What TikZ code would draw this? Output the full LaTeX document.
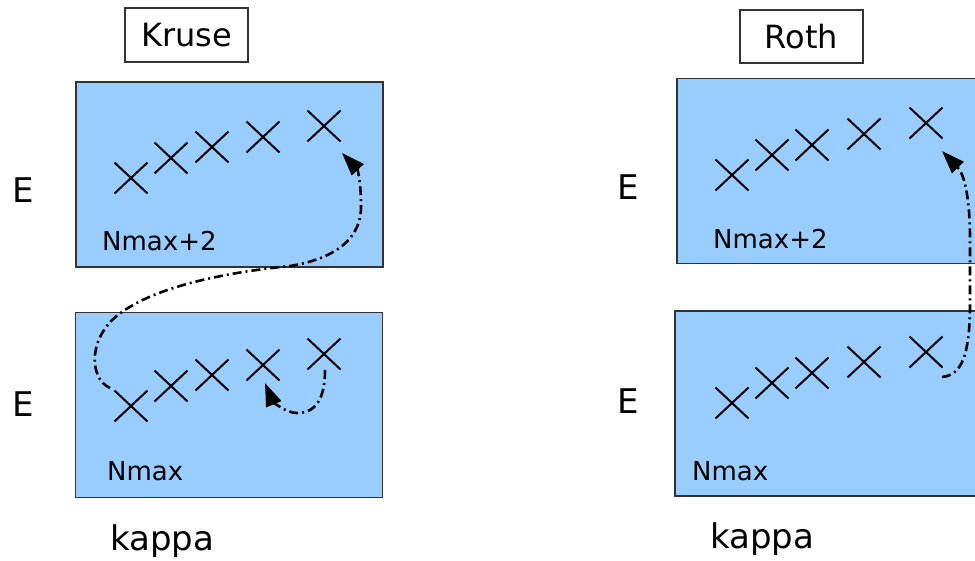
\documentclass[tikz,border=0pt]{standalone}
\usepackage{fontspec}
\setmainfont{DejaVu Sans}
\usetikzlibrary{arrows.meta,shapes.misc,calc}
\definecolor{boxblue}{HTML}{99CCFF}
\definecolor{edgegray}{HTML}{333333}
\begin{document}
\begin{tikzpicture}[x=1pt,y=-1pt,
  panel/.style={draw=edgegray,line width=1.6pt,fill=boxblue,minimum width=307pt,minimum height=185pt,inner sep=0pt,outer sep=0pt},
  titlebox/.style={draw=edgegray,line width=1.3pt,fill=white,minimum width=123pt,minimum height=54pt,inner sep=0pt,text depth=0pt,font=\fontsize{32}{36}\selectfont},
  xmark/.style={cross out,draw=black,line width=2pt,minimum width=33pt,minimum height=31pt,inner sep=0pt,outer sep=0pt},
  elabel/.style={anchor=base west,inner sep=0pt,font=\fontsize{34}{40}\selectfont},
  nlabel/.style={anchor=base west,inner sep=0pt,font=\fontsize{26}{30}\selectfont},
  klabel/.style={anchor=base west,inner sep=0pt,font=\fontsize{34}{40}\selectfont},
  jump/.style={line width=2.6pt,dash pattern=on 9pt off 4pt on 2pt off 4pt,-{Triangle[length=23pt,width=16pt]}}]
\useasboundingbox (0,0) rectangle (975,560);
\clip (0,0) rectangle (975,560);

% ---------- left panel (Kruse) ----------
\node[titlebox] (kruse) at (186.5,35) {Kruse};
\node[panel] (ltop) at (229.5,174.5) {};
\node[panel] (lbot) at (229,405) {};
\node[elabel] (le1) at (12,202) {E};
\node[elabel] (le2) at (12,416) {E};
\node[nlabel] (ln1) at (102,250) {Nmax+2};
\node[nlabel] (ln2) at (107,480) {Nmax};
\node[klabel] (lk) at (110,550) {kappa};

\node[xmark] (lt1) at (131,178) {};
\node[xmark] (lt2) at (171,158) {};
\node[xmark] (lt3) at (212,147) {};
\node[xmark] (lt4) at (263,137) {};
\node[xmark] (lt5) at (324,126) {};
\node[xmark] (lb1) at (131,406) {};
\node[xmark] (lb2) at (171,386) {};
\node[xmark] (lb3) at (212,375) {};
\node[xmark] (lb4) at (263,365) {};
\node[xmark] (lb5) at (324,354) {};

% ---------- right panel (Roth) ----------
\node[titlebox,minimum height=53pt] (roth) at (801.5,36.5) {Roth};
\node[panel] (rtop) at (830.5,171) {};
\node[panel] (rbot) at (828.5,403.5) {};
\node[elabel] (re1) at (617,199) {E};
\node[elabel] (re2) at (617,413) {E};
\node[nlabel] (rn1) at (713,248) {Nmax+2};
\node[nlabel] (rn2) at (692,480) {Nmax};
\node[klabel] (rk) at (710,548) {kappa};

\node[xmark] (rt1) at (732,175) {};
\node[xmark] (rt2) at (772,155) {};
\node[xmark] (rt3) at (812,145) {};
\node[xmark] (rt4) at (864,134) {};
\node[xmark] (rt5) at (926,123) {};
\node[xmark] (rb1) at (732,403) {};
\node[xmark] (rb2) at (772,383) {};
\node[xmark] (rb3) at (812,373) {};
\node[xmark] (rb4) at (864,362) {};
\node[xmark] (rb5) at (926,352) {};

% ---------- jumps ----------
\coordinate (ls) at ($(lb1)+(-21,-18)$);
\coordinate (le) at ($(lt5)+(18,27)$);
\draw[jump] (ls) .. controls (88,378) and (88,335) .. (122,312)
  .. controls (160,285) and (230,272) .. (290,266)
  .. controls (340,258) and (362,235) .. (361,205)
  .. controls (361,185) and (358,170) .. (le);

\coordinate (ss) at ($(lb5)+(1,16)$);
\coordinate (se) at ($(lb4)+(2,18)$);
\draw[jump] (ss) .. controls (325,400) and (315,413) .. (297,413)
  .. controls (285,413) and (272,400) .. (se);

\coordinate (rs) at ($(rb5)+(16,25)$);
\coordinate (re) at ($(rt5)+(16,28)$);
\draw[jump] (rs) .. controls (962,375) and (969,355) .. (970,310)
  -- (970,240) .. controls (970,200) and (965,175) .. (re);
\end{tikzpicture}
\end{document}
